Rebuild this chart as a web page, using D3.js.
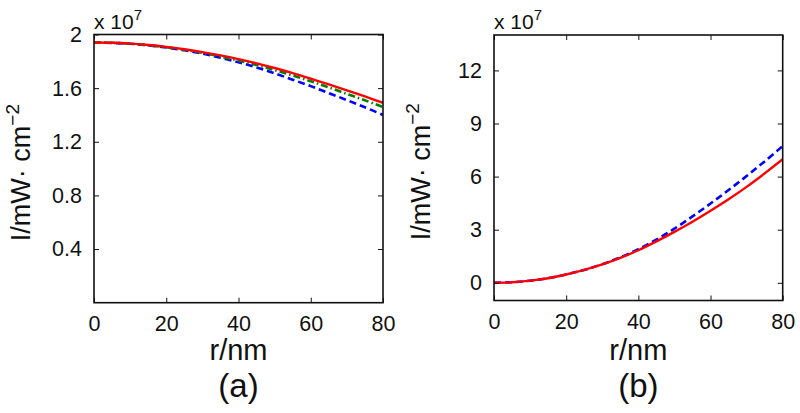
<!DOCTYPE html>
<html><head><meta charset="utf-8">
<script src="https://cdn.jsdelivr.net/npm/d3@7"></script>
<style>
body{margin:0;background:#fff;}
text{font-family:"Liberation Sans",Arial,Helvetica,sans-serif;fill:#111;}
</style></head>
<body><svg id="c" width="800" height="413"></svg>
<script>
// radius r (nm)
const rValues = [0,5,10,15,20,25,30,35,40,45,50,55,60,65,70,75,80];
// panel (a), intensity in units of 1e7 mW/cm^2
const aRed   = [1.940,1.938,1.932,1.922,1.908,1.890,1.869,1.844,1.816,1.785,1.750,1.712,1.670,1.628,1.584,1.538,1.490];
const aGreen = [1.940,1.938,1.931,1.920,1.905,1.886,1.863,1.836,1.806,1.772,1.734,1.694,1.651,1.605,1.557,1.509,1.460];
const aBlue  = [1.940,1.937,1.931,1.919,1.903,1.882,1.857,1.827,1.793,1.754,1.710,1.663,1.615,1.563,1.511,1.457,1.400];
// panel (b), intensity in units of 1e7 mW/cm^2
const bRed   = [0,0.03,0.12,0.26,0.47,0.73,1.04,1.41,1.84,2.34,2.88,3.45,4.07,4.72,5.42,6.18,6.98];
const bBlue  = [0,0.03,0.12,0.26,0.47,0.73,1.05,1.44,1.90,2.44,3.06,3.75,4.48,5.24,6.03,6.86,7.72];
const xTicks  = [0,20,40,60,80];
const aYTicks = [0.4,0.8,1.2,1.6,2];
const bYTicks = [0,3,6,9,12];
const aYDomain = [0,2];
const bYDomain = [-1,14];

const svg = d3.select("#c");

function panel(opts){
  const {left,right,top,bottom,yDomain,yTicks,series,label} = opts;
  const x = d3.scaleLinear().domain([0,80]).range([left,right]);
  const y = d3.scaleLinear().domain(yDomain).range([bottom,top]);
  const g = svg.append("g");
  const clipId = "clip"+label.replace(/\W/g,"");
  g.append("clipPath").attr("id",clipId).append("rect")
    .attr("x",left).attr("y",top).attr("width",right-left).attr("height",bottom-top);
  const line = d3.line().x((d,i)=>x(rValues[i])).y(d=>y(d)).curve(d3.curveCatmullRom);
  series.forEach(s=>{
    g.append("path").attr("d",line(s.values)).attr("fill","none")
      .attr("stroke",s.color).attr("stroke-width",s.width)
      .attr("stroke-dasharray",s.dash||null)
      .attr("clip-path","url(#"+clipId+")");
  });
  const tl = 5;
  const xb = g.append("g").attr("transform",`translate(0,${bottom})`)
    .call(d3.axisBottom(x).tickValues(xTicks).tickSize(-tl).tickPadding(13).tickFormat(d3.format("d")));
  const xt = g.append("g").attr("transform",`translate(0,${top})`)
    .call(d3.axisTop(x).tickValues(xTicks).tickSize(-tl).tickFormat(""));
  const yl = g.append("g").attr("transform",`translate(${left},0)`)
    .call(d3.axisLeft(y).tickValues(yTicks).tickSize(-tl).tickPadding(12).tickFormat(d=>String(d)));
  const yr = g.append("g").attr("transform",`translate(${right},0)`)
    .call(d3.axisRight(y).tickValues(yTicks).tickSize(-tl).tickFormat(""));
  [xb,xt,yl,yr].forEach(a=>{
    a.select(".domain").remove();
    a.selectAll("line").attr("stroke","#111").attr("stroke-width",1);
    a.selectAll("text").attr("font-size",21.5).style("font-family","'Liberation Sans',Arial,sans-serif").attr("fill","#111");
  });
  g.append("rect").attr("x",left).attr("y",top).attr("width",right-left).attr("height",bottom-top)
    .attr("fill","none").attr("stroke","#111").attr("stroke-width",1.6);
  const ex = g.append("text").attr("x",left).attr("y",top-6).attr("font-size",21);
  ex.append("tspan").text("x 10");
  ex.append("tspan").attr("dy",-9).attr("font-size",15).text("7");
  const cx = (left+right)/2;
  g.append("text").attr("x",cx).attr("y",360).attr("text-anchor","middle")
    .attr("font-size",29).text("r/nm");
  g.append("text").attr("x",cx).attr("y",397).attr("text-anchor","middle")
    .attr("font-size",33).text(label);
  const cy = (top+bottom)/2 + 4;
  const ylab = g.append("text").attr("transform",`translate(${opts.ylabX},${cy}) rotate(-90)`)
    .attr("text-anchor","middle").attr("font-size",27);
  ylab.append("tspan").text("I/mW· cm");
  ylab.append("tspan").attr("dy",-11).attr("font-size",19).text("−2");
}

panel({left:94,right:383,top:34.5,bottom:302.7,yDomain:aYDomain,yTicks:aYTicks,label:"(a)",ylabX:30,
  series:[
    {values:aBlue,color:"#0000ff",width:2.6,dash:"7,4"},
    {values:aGreen,color:"#008000",width:2.6,dash:"7,3,1.5,3"},
    {values:aRed,color:"#ff0000",width:2.4}
  ]});
panel({left:494,right:782.7,top:35,bottom:300.5,yDomain:bYDomain,yTicks:bYTicks,label:"(b)",ylabX:430,
  series:[
    {values:bBlue,color:"#0000ff",width:2.6,dash:"7,4"},
    {values:bRed,color:"#ff0000",width:2.4}
  ]});
</script></body></html>
